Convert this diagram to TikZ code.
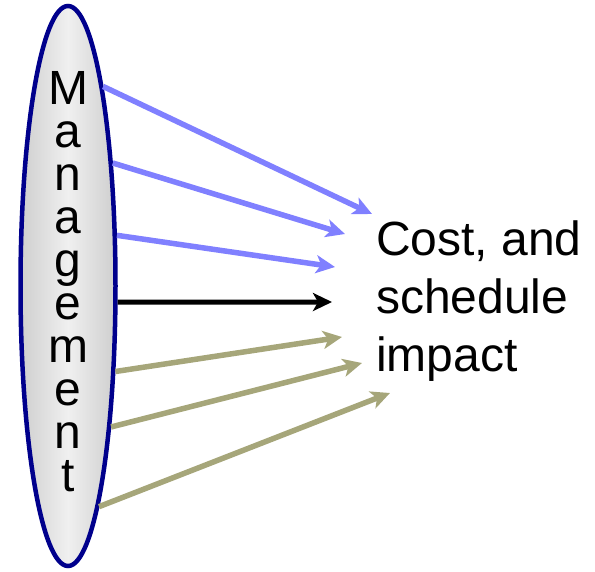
\documentclass[tikz,border=0pt]{standalone}
\usepackage{fontspec}
\setmainfont{Liberation Sans}
\usetikzlibrary{arrows.meta,positioning,shapes.geometric}
\definecolor{mgmtblue}{RGB}{0,0,140}
\definecolor{lightblue}{RGB}{128,128,255}
\definecolor{olive}{RGB}{166,166,122}

\begin{document}
\begin{tikzpicture}[x=1pt,y=1pt,>={Stealth[length=19pt,width=18pt,inset=5pt]},
    bluearrow/.style={->,line width=5.5pt,lightblue},
    olivearrow/.style={->,line width=5.5pt,olive},
    blackarrow/.style={->,line width=5pt,black}]
            \useasboundingbox (0,0) rectangle (595,571);
            \node[ellipse,draw=mgmtblue,line width=4.5pt,inner sep=0pt,
                minimum width=95pt,minimum height=560pt,
                left color=gray!38,right color=gray!38,middle color=gray!12] (mgmt) at (68,285) {};
            \node[anchor=north,inner sep=0pt,align=center,font=\fontsize{48}{43}\selectfont] (letters) at (68,500)
                {M\\a\\n\\a\\g\\e\\m\\e\\n\\t};
            \node[anchor=north west,inner sep=0pt,align=left,font=\fontsize{48}{58}\selectfont] (impact) at (376,350)
                {Cost, and\\schedule\\impact};
            % arrow heads
            \coordinate (b1) at (372,357);
            \coordinate (b2) at (345,337);
            \coordinate (b3) at (335,304);
            \coordinate (k1) at (332,269);
            \coordinate (o1) at (342,234);
            \coordinate (o2) at (362,208);
            \coordinate (o3) at (390,178);
            \draw[bluearrow] (mgmt.80) -- (b1);
            \draw[bluearrow] (mgmt.70.5) -- (b2);
            \draw[bluearrow] (mgmt.46) -- (b3);
            \draw[blackarrow] (mgmt.-18) -- (k1);
            \draw[olivearrow] (mgmt.-61.5) -- (o1);
            \draw[olivearrow] (mgmt.-73.7) -- (o2);
            \draw[olivearrow] (mgmt.-82.6) -- (o3);
        \end{tikzpicture}
\end{document}
